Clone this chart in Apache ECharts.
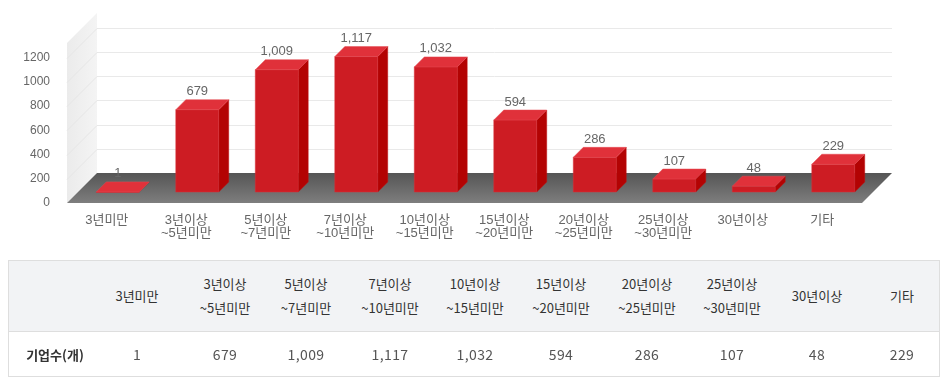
<!DOCTYPE html>
<html><head><meta charset="utf-8">
<script src="https://cdn.jsdelivr.net/npm/echarts@6/dist/echarts.min.js"></script>
<style>
html,body{margin:0;padding:0;background:#fff;}
#wrap{position:relative;width:947px;height:386px;overflow:hidden;}
#chart{position:absolute;left:0;top:0;width:947px;height:386px;}
#tbl{position:absolute;left:8px;top:260px;width:932px;height:117px;border:1px solid #dedede;box-sizing:border-box;font-family:"Noto Sans CJK KR","Noto Sans",sans-serif;color:#333;}
#thead{position:absolute;left:0;top:0;right:0;height:70px;background:#f2f3f5;border-bottom:1px solid #dedede;}
.cell{position:absolute;transform:translate(-50%,-50%);white-space:nowrap;text-align:center;}
.h{font-size:13px;line-height:24px;color:#333;}
.b{font-size:14px;color:#555;letter-spacing:0.4px;}
.rl{font-size:13px;font-weight:bold;color:#333;}
</style></head>
<body><div id="wrap"><div id="chart"></div><div id="tbl"><div id="thead"></div></div></div>
<script>
const categories = ['3년미만','3년이상\n~5년미만','5년이상\n~7년미만','7년이상\n~10년미만','10년이상\n~15년미만','15년이상\n~20년미만','20년이상\n~25년미만','25년이상\n~30년미만','30년이상','기타'];
const companyCounts = [1,679,1009,1117,1032,594,286,107,48,229];
const yTicks = [200,400,600,800,1000,1200];
const rowLabel = '기업수(개)';
const fmt = v => v.toLocaleString('en-US');

// table (HTML)
const colCenters = [137,225,306,390,475,561,647,732,817,902];
const tbl = document.getElementById('tbl');
const thead = document.getElementById('thead');
categories.forEach((c,i)=>{
  const d=document.createElement('div'); d.className='cell h';
  d.style.left=(colCenters[i]-9)+'px'; d.style.top='35px';
  d.innerHTML=c.split('\n').join('<br>'); thead.appendChild(d);
  const e=document.createElement('div'); e.className='cell b';
  e.style.left=(colCenters[i]-9)+'px'; e.style.top='93px';
  e.textContent=fmt(companyCounts[i]); tbl.appendChild(e);
});
const rl=document.createElement('div'); rl.className='cell rl';
rl.style.left='46px'; rl.style.top='93px'; rl.textContent=rowLabel; tbl.appendChild(rl);

const chart = echarts.init(document.getElementById('chart'), null, {renderer:'canvas'});
const D = 30, OFF = 11, DEP = 10;
chart.setOption({
  animation:false,
  grid:{left:67,right:85,top:43,bottom:183},
  xAxis:{type:'category',data:categories,boundaryGap:true,
    axisLine:{show:false},axisTick:{show:false},
    axisLabel:{color:'#666',fontSize:13,lineHeight:13,margin:11,fontFamily:'"Liberation Sans","Noto Sans CJK KR",sans-serif',interval:0}},
  yAxis:{type:'value',min:0,max:1320,interval:200,
    axisLine:{show:false},axisTick:{show:false},splitLine:{show:false},
    axisLabel:{color:'#666',fontSize:12,margin:17,showMaxLabel:false,fontFamily:'"Liberation Sans",Arial,sans-serif',
      formatter:v=>(v%200===0?String(v):'')}},
  series:[
    {type:'custom',z:1,silent:true,data:[[0,0]],
     renderItem:(params,api)=>{
       const cs=params.coordSys;
       const x0=cs.x,x1=cs.x+cs.width,yb=api.coord([0,0])[1],yt=cs.y;
       const ch=[];
       ch.push({type:'polygon',shape:{points:[[x0,yb],[x0+D,yb-D],[x0+D,yt-D],[x0,yt]]},
         style:{fill:new echarts.graphic.LinearGradient(0,0,1,0,[{offset:0,color:'#ebebeb'},{offset:1,color:'#f4f4f4'}])}});
       yTicks.forEach(v=>{
         const y=Math.round(api.coord([0,v])[1])+0.5;
         ch.push({type:'line',shape:{x1:x0+D,y1:y-D,x2:x1+D,y2:y-D},style:{stroke:'#e9e9e9',lineWidth:1}});
         ch.push({type:'line',shape:{x1:x0,y1:y,x2:x0+D,y2:y-D},style:{stroke:'#e6e6e6',lineWidth:1}});
       });
       ch.push({type:'polygon',shape:{points:[[x0,yb],[x1,yb],[x1+D,yb-D],[x0+D,yb-D]]},
         style:{fill:new echarts.graphic.LinearGradient(0,0,0,1,[{offset:0,color:'#555555'},{offset:1,color:'#7e7e7e'}])}});
       return {type:'group',children:ch};
     }},
    {type:'custom',z:2,data:companyCounts.map((v,i)=>[i,v]),encode:{x:0,y:1},
     renderItem:(params,api)=>{
       const idx=api.value(0),val=api.value(1);
       const top=api.coord([idx,val]),base=api.coord([idx,0]);
       const band=api.size([1,0])[0];
       const w=band*0.54;
       const xL=top[0]-w/2+OFF,xR=xL+w,yT=top[1]-OFF,yB=base[1]-OFF;
       return {type:'group',children:[
         {type:'polygon',shape:{points:[[xR,yT],[xR+DEP,yT-DEP],[xR+DEP,yB-DEP],[xR,yB]]},style:{fill:'#b30303',stroke:'#c01010',lineWidth:0.5}},
         {type:'rect',shape:{x:xL,y:yT,width:w,height:Math.max(yB-yT,0.5)},style:{fill:'#cd1c23',stroke:'#d8323a',lineWidth:0.5}},
         {type:'polygon',shape:{points:[[xL,yT],[xR,yT],[xR+DEP,yT-DEP],[xL+DEP,yT-DEP]]},style:{fill:'#e0313a',stroke:'#e54850',lineWidth:0.5}},
         {type:'text',x:top[0]+OFF,y:yT-DEP-1.5,style:{text:fmt(val),fill:'#666',fontSize:13,fontFamily:'"Liberation Sans",Arial,sans-serif',align:'center',verticalAlign:'bottom'}}
       ]};
     }}
  ]
});
</script></body></html>
